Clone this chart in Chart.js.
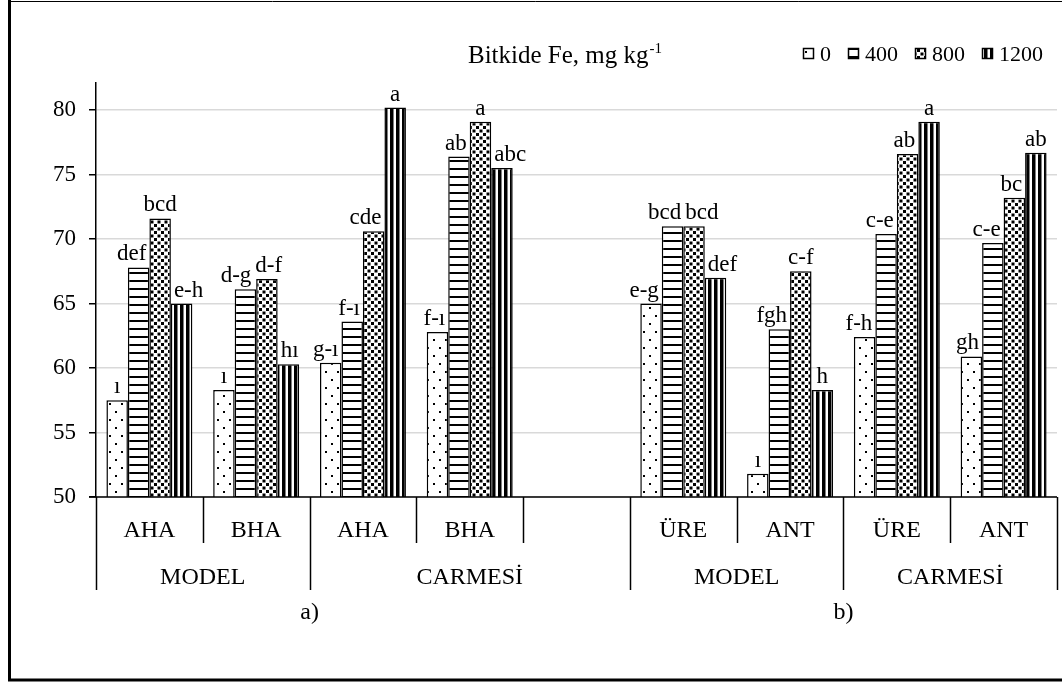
<!DOCTYPE html>
<html><head><meta charset="utf-8">
<script src="https://cdn.jsdelivr.net/npm/chart.js@4/dist/chart.umd.min.js"></script>
<style>html,body{margin:0;padding:0;background:#fff}#wrap{width:1062px;height:684px;position:relative}</style>
</head><body><div id="wrap"><canvas id="c"></canvas></div>
<script>
// ---- data ----
const categories = ['AHA','BHA','AHA','BHA','','ÜRE','ANT','ÜRE','ANT'];
const groupNames = ['MODEL','CARMESİ','MODEL','CARMESİ'];
const groupStarts = [0,2,5,7];
const groupEnds = [2,5,7,9];
const panelLabels = ['a)','b)'];
const panelFirst = [0,5];
const panelLast = [3,8];
const seriesNames = ['0','400','800','1200'];
const fe0    = [57.5, 58.3, 60.4, 62.8, null, 65.0, 51.8, 62.4, 60.9];
const fe400  = [67.8, 66.1, 63.6, 76.4, null, 71.0, 63.0, 70.4, 69.7];
const fe800  = [71.6, 66.9, 70.6, 79.1, null, 71.0, 67.5, 76.6, 73.2];
const fe1200 = [65.0, 60.3, 80.2, 75.5, null, 67.0, 58.3, 79.1, 76.7];
const let0    = ['ı','ı','g-ı','f-ı','','e-g','ı','f-h','gh'];
const let400  = ['def','d-g','f-ı','ab','','bcd','fgh','c-e','c-e'];
const let800  = ['bcd','d-f','cde','a','','bcd','c-f','ab','bc'];
const let1200 = ['e-h','hı','a','abc','','def','h','a','ab'];
const yTicks = [50,55,60,65,70,75,80];
const titleMain = 'Bitkide Fe, mg kg';
const titleSup = '-1';

const letterSets = [let0, let400, let800, let1200];
const serif = "'Liberation Serif','Times New Roman',serif";
const F = s => s + 'px ' + serif;

// ---- patterns ----
function tile(w, h, draw) {
  const c = document.createElement('canvas'); c.width = w; c.height = h;
  const g = c.getContext('2d'); g.fillStyle = '#fff'; g.fillRect(0, 0, w, h);
  g.fillStyle = '#000'; draw(g);
  return document.getElementById('c').getContext('2d').createPattern(c, 'repeat');
}
const patDots = tile(12, 16, g => { g.fillRect(1, 3, 2, 2); g.fillRect(7, 11, 2, 2); });
const patLines = tile(4, 8, g => { g.fillRect(0, 0, 4, 2); });
const patCheck = tile(7, 7, g => { g.fillRect(0, 0, 3, 3); g.fillRect(3.5, 3.5, 3, 3); });
const patVert = tile(6, 4, g => { g.fillRect(0, 0, 3.5, 4); });
const patterns = [patDots, patLines, patCheck, patVert];

const series = [fe0, fe400, fe800, fe1200];

const overlay = {
  id: 'overlay',
  afterDatasetsDraw(chart) {
    const ctx = chart.ctx;
    ctx.save();
    ctx.font = F(23); ctx.fillStyle = '#000'; ctx.textAlign = 'center'; ctx.textBaseline = 'alphabetic';
    for (let i = 0; i < categories.length; i++) {
      const bars = series.map((s, d) => ({ el: chart.getDatasetMeta(d).data[i], v: s[i], txt: letterSets[d][i] }));
      const boxes = bars.map((b, k) => {
        if (b.v == null || !b.txt) return null;
        const w = ctx.measureText(b.txt).width;
        let cx = b.el.x;
        const base = b.el.y - 7;
        const r = bars[k + 1], l = bars[k - 1];
        if (r && r.v != null && r.el.y < base) {
          const edge = r.el.x - r.el.width / 2;
          if (cx + w / 2 > edge - 3) cx -= (cx + w / 2 - edge) + 3;
        }
        if (l && l.v != null && l.el.y < base) {
          const edge = l.el.x + l.el.width / 2;
          if (cx - w / 2 < edge + 3) cx += (edge - (cx - w / 2)) + 3;
        }
        return { txt: b.txt, w, cx, base };
      });
      for (let k = 1; k < boxes.length; k++) {
        const a = boxes[k - 1], b = boxes[k];
        if (!a || !b) continue;
        if (Math.abs(a.base - b.base) > 18) continue;
        const o = (a.cx + a.w / 2 + 4) - (b.cx - b.w / 2);
        if (o > 0) { a.cx -= o / 2; b.cx += o / 2; }
      }
      boxes.forEach(b => { if (b) ctx.fillText(b.txt, b.cx, b.base); });
    }
    ctx.restore();
  },
  afterDraw(chart) {
    const ctx = chart.ctx, xs = chart.scales.x, ys = chart.scales.y, ca = chart.chartArea;
    ctx.save();
    const y0 = ys.getPixelForValue(50);
    const step = xs.getPixelForValue(1) - xs.getPixelForValue(0);
    const edge = i => xs.getPixelForValue(0) + (i - 0.5) * step;
    ctx.strokeStyle = '#000'; ctx.lineWidth = 1.5;
    ctx.beginPath(); ctx.moveTo(ca.left - 7, y0); ctx.lineTo(ca.right, y0); ctx.stroke();
    for (let i = 0; i <= categories.length; i++) {
      const long = groupStarts.includes(i) || i === categories.length;
      const x = Math.round(edge(i)) + 0.5;
      ctx.beginPath(); ctx.moveTo(x, y0); ctx.lineTo(x, y0 + (long ? 93 : 46)); ctx.stroke();
    }
    ctx.fillStyle = '#000'; ctx.font = F(24); ctx.textAlign = 'center'; ctx.textBaseline = 'middle';
    categories.forEach((c, i) => { if (c) ctx.fillText(c, xs.getPixelForValue(i), y0 + 34); });
    groupNames.forEach((g, k) => ctx.fillText(g, (edge(groupStarts[k]) + edge(groupEnds[k])) / 2, y0 + 81));
    panelLabels.forEach((p, k) => ctx.fillText(p, (edge(panelFirst[k]) + edge(panelLast[k] + 1)) / 2, y0 + 116));

    // title
    ctx.textAlign = 'left'; ctx.textBaseline = 'alphabetic';
    ctx.font = F(25);
    const tx = 468, ty = 63;
    ctx.fillText(titleMain, tx, ty);
    const tw = ctx.measureText(titleMain).width;
    ctx.font = F(15);
    ctx.fillText(titleSup, tx + tw + 1, ty - 10);

    // legend
    ctx.font = F(22);
    let lx = 803; const ly = 54;
    seriesNames.forEach((n, d) => {
      ctx.fillStyle = patterns[d]; ctx.fillRect(lx, ly - 6, 11, 11);
      ctx.strokeStyle = '#000'; ctx.lineWidth = 1.5; ctx.strokeRect(lx + 0.5, ly - 5.5, 10, 10);
      ctx.fillStyle = '#000'; ctx.textBaseline = 'middle';
      ctx.fillText(n, lx + 17, ly + 1);
      lx += 17 + ctx.measureText(n).width + 17;
    });

    // outer frame
    ctx.strokeStyle = '#000';
    ctx.lineWidth = 3; ctx.beginPath(); ctx.moveTo(9.5, 0); ctx.lineTo(9.5, 680); ctx.lineTo(1062, 680); ctx.stroke();
    ctx.lineWidth = 1; ctx.beginPath(); ctx.moveTo(9.5, 1.5); ctx.lineTo(1062, 1.5); ctx.stroke();
    ctx.restore();
  }
};

new Chart(document.getElementById('c'), {
  type: 'bar',
  data: {
    labels: categories,
    datasets: series.map((s, d) => ({
      label: seriesNames[d], data: s,
      backgroundColor: patterns[d], borderColor: '#000', borderWidth: 1.5, borderSkipped: false,
      barPercentage: 1, categoryPercentage: 0.805
    }))
  },
  options: {
    responsive: true, maintainAspectRatio: false, animation: false,
    layout: { padding: { left: 0, right: 5, top: 83, bottom: 187 } },
    plugins: { legend: { display: false }, tooltip: { enabled: false } },
    scales: {
      x: { display: false, offset: true, grid: { display: false } },
      y: {
        min: 50, max: 82.1,
        afterBuildTicks: s => { s.ticks = yTicks.map(v => ({ value: v })); },
        afterFit: s => { s.width = 96; },
        ticks: { font: { family: serif, size: 23 }, color: '#000', padding: 13 },
        grid: { color: '#d9d9d9', lineWidth: 1.5, drawTicks: true, tickLength: 7, tickColor: '#000', tickWidth: 1.5 },
        border: { display: true, color: '#000', width: 1.5 }
      }
    }
  },
  plugins: [overlay]
});
</script></body></html>
